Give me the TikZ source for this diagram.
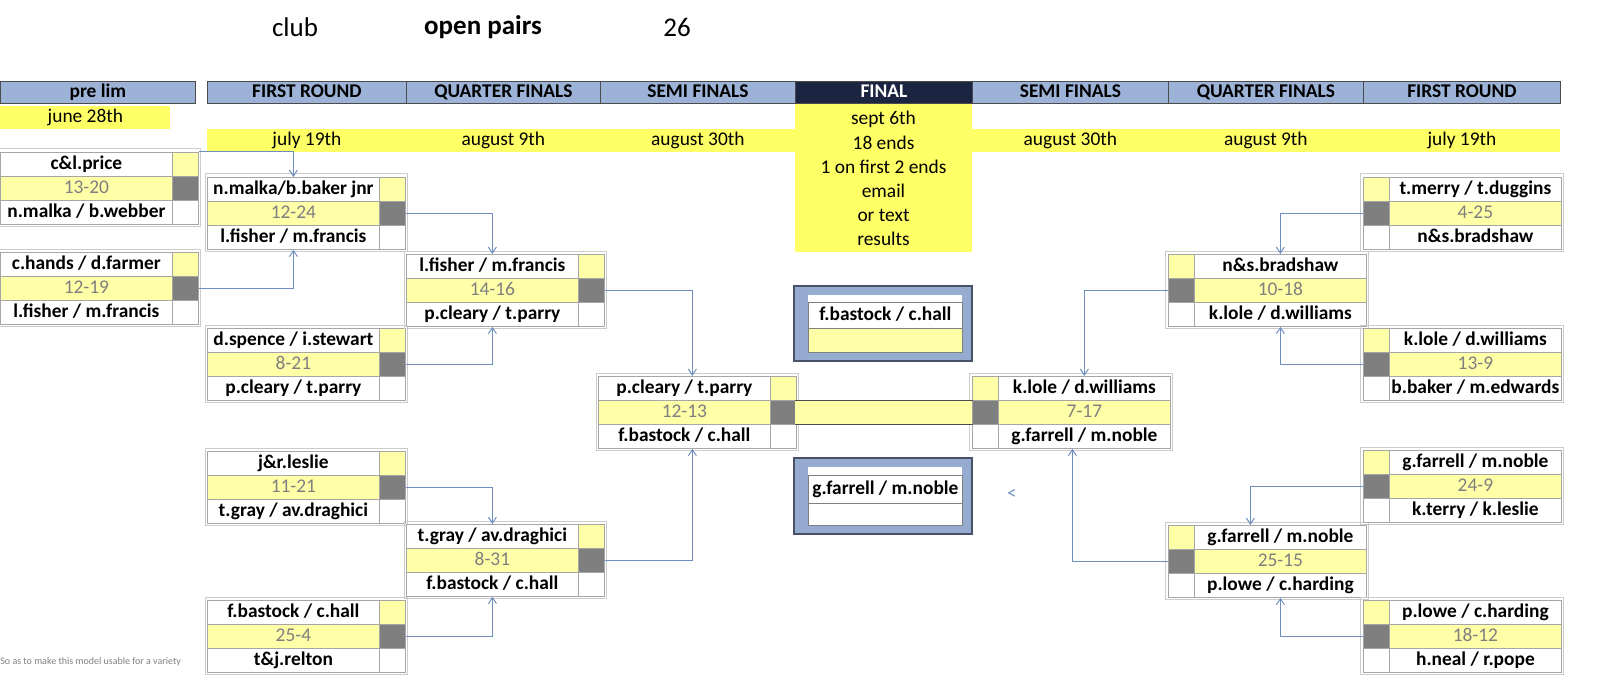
\documentclass[tikz,border=0pt]{standalone}
\usepackage{fontspec}
\setmainfont{Carlito}
\usetikzlibrary{arrows.meta}
\definecolor{hdrblue}{HTML}{9CB2D6}
\definecolor{navy}{HTML}{1B2541}
\definecolor{datey}{HTML}{FFFF66}
\definecolor{scorey}{HTML}{FFFFA8}
\definecolor{darkg}{HTML}{7F7F7F}
\definecolor{linkblue}{HTML}{6F8FC0}
\definecolor{frameblue}{HTML}{95ABD0}
\newcommand\mfont{\fontsize{9.7}{11}\selectfont\bfseries}
\newcommand\sfont{\fontsize{9.7}{11}\selectfont}
\tikzset{
  cellbox/.style={draw=gray!70, line width=0.4pt, minimum height=12pt, inner sep=0pt, text height=7pt, text depth=2pt, anchor=north west, font=\mfont},
  hdr/.style={draw=black!70, fill=hdrblue, minimum height=11pt, inner sep=0pt, text height=7pt, text depth=2pt, anchor=north west, font=\mfont},
  datecell/.style={fill=datey, minimum height=11.5pt, inner sep=0pt, text height=7pt, text depth=2pt, anchor=north west, font=\sfont},
  link/.style={linkblue, line width=0.5pt, -{Straight Barb[length=3pt,width=4pt]}},
  frame/.style={draw=gray!40, line width=0.5pt}
}
% left-hand match box: name, x, y, top pair, score, bottom pair
\newcommand\lmatch[6]{%
  \node[cellbox, fill=white, minimum width=86pt] (#1-t) at (#2,#3) {#4};
  \node[cellbox, fill=scorey, minimum width=86pt, text=darkg, font=\sfont] (#1-s) at (#2,#3+24) {#5};
  \node[cellbox, fill=white, minimum width=86pt] (#1-b) at (#2,#3+48) {#6};
  \node[cellbox, fill=scorey, minimum width=13pt] (#1-k1) at (#2+172,#3) {};
  \node[cellbox, fill=darkg, minimum width=13pt] (#1-k2) at (#2+172,#3+24) {};
  \node[cellbox, fill=white, minimum width=13pt] (#1-k3) at (#2+172,#3+48) {};
  \draw[frame] (#2-2,#3-3) rectangle (#2+200,#3+74);
}
% right-hand match box
\newcommand\rmatch[6]{%
  \node[cellbox, fill=scorey, minimum width=13pt] (#1-k1) at (#2,#3) {};
  \node[cellbox, fill=darkg, minimum width=13pt] (#1-k2) at (#2,#3+24) {};
  \node[cellbox, fill=white, minimum width=13pt] (#1-k3) at (#2,#3+48) {};
  \node[cellbox, fill=white, minimum width=86pt] (#1-t) at (#2+26,#3) {#4};
  \node[cellbox, fill=scorey, minimum width=86pt, text=darkg, font=\sfont] (#1-s) at (#2+26,#3+24) {#5};
  \node[cellbox, fill=white, minimum width=86pt] (#1-b) at (#2+26,#3+48) {#6};
  \draw[frame] (#2-3,#3-3) rectangle (#2+200,#3+74);
}
\begin{document}
\begin{tikzpicture}[x=0.5pt, y=-0.5pt]
\useasboundingbox (0,0) rectangle (1602,690);

% title
\node[font=\fontsize{13.5}{15}\selectfont] (ttl1) at (295,27) {club};
\node[font=\fontsize{13.5}{15}\selectfont\bfseries] (ttl2) at (483,27) {open pairs};
\node[font=\fontsize{13.5}{15}\selectfont] (ttl3) at (677,27) {26};

% headers
\node[hdr, minimum width=97.5pt] (h0) at (0,81) {pre lim};
\node[hdr, minimum width=99.5pt] (h1) at (207,81) {FIRST ROUND};
\node[hdr, minimum width=97pt] (h2) at (406,81) {QUARTER FINALS};
\node[hdr, minimum width=97.5pt] (h3) at (600,81) {SEMI FINALS};
\node[hdr, minimum width=88.5pt, fill=navy, text=white] (h4) at (795,81) {FINAL};
\node[hdr, minimum width=98pt] (h5) at (972,81) {SEMI FINALS};
\node[hdr, minimum width=97.5pt] (h6) at (1168,81) {QUARTER FINALS};
\node[hdr, minimum width=98.5pt] (h7) at (1363,81) {FIRST ROUND};

% dates
\node[datecell, minimum width=85pt] (d0) at (0,106) {june 28th};
\node[datecell, minimum width=99.5pt] (d1) at (207,129) {july 19th};
\node[datecell, minimum width=97pt] (d2) at (406,129) {august 9th};
\node[datecell, minimum width=97.5pt] (d3) at (600,129) {august 30th};
\node[datecell, minimum width=98pt] (d5) at (972,129) {august 30th};
\node[datecell, minimum width=97.5pt] (d6) at (1168,129) {august 9th};
\node[datecell, minimum width=98.5pt] (d7) at (1363,129) {july 19th};
\fill[datey] (795,104) rectangle (972,252);
\foreach \txt [count=\i] in {sept 6th, 18 ends, 1 on first 2 ends, email, or text, results}
  \node[font=\sfont] (fin\i) at (883.5,95+24*\i) {\txt};

% pre lim
\lmatch{P1}{0}{152}{c\&l.price}{13-20}{n.malka / b.webber}
\lmatch{P2}{0}{252}{c.hands / d.farmer}{12-19}{l.fisher / m.francis}

% first round, left
\lmatch{A}{207}{177}{n.malka/b.baker jnr}{12-24}{l.fisher / m.francis}
\lmatch{B}{207}{328}{d.spence / i.stewart}{8-21}{p.cleary / t.parry}
\lmatch{C}{207}{451}{j\&r.leslie}{11-21}{t.gray / av.draghici}
\lmatch{D}{207}{600}{f.bastock / c.hall}{25-4}{t\&j.relton}

% quarter finals, left
\lmatch{E}{406}{254}{l.fisher / m.francis}{14-16}{p.cleary / t.parry}
\lmatch{F}{406}{524}{t.gray / av.draghici}{8-31}{f.bastock / c.hall}

% semi final, left
\lmatch{S1}{598}{376}{p.cleary / t.parry}{12-13}{f.bastock / c.hall}

% semi final, right
\rmatch{S2}{972}{376}{k.lole / d.williams}{7-17}{g.farrell / m.noble}

% quarter finals, right
\rmatch{G}{1168}{254}{n\&s.bradshaw}{10-18}{k.lole / d.williams}
\rmatch{H}{1168}{525}{g.farrell / m.noble}{25-15}{p.lowe / c.harding}

% first round, right
\rmatch{I}{1363}{177}{t.merry / t.duggins}{4-25}{n\&s.bradshaw}
\rmatch{J}{1363}{328}{k.lole / d.williams}{13-9}{b.baker / m.edwards}
\rmatch{K}{1363}{450}{g.farrell / m.noble}{24-9}{k.terry / k.leslie}
\rmatch{L}{1363}{600}{p.lowe / c.harding}{18-12}{h.neal / r.pope}

% final bar
\node[cellbox, draw=none, fill=scorey, minimum width=88.5pt] (bar) at (795,400) {};
\draw[black!70] (bar.north west) -- (bar.north east);
\draw[black!70] (bar.south west) -- (bar.south east);

% winners
\node[draw=navy!80, line width=1pt, fill=frameblue, minimum width=89pt, minimum height=37.5pt, inner sep=0pt, anchor=north west] (W1) at (793,285) {};
\fill[white] (808,295) rectangle (962,302);
\node[cellbox, draw=gray, fill=white, minimum width=77pt, minimum height=13pt] (W1-t) at (808,302) {f.bastock / c.hall};
\node[cellbox, draw=gray, fill=scorey, minimum width=77pt] (W1-s) at (808,328) {};
\node[draw=navy!80, line width=1pt, fill=frameblue, minimum width=89pt, minimum height=38pt, inner sep=0pt, anchor=north west] (W2) at (793,457) {};
\fill[white] (808,467) rectangle (962,475);
\node[cellbox, draw=gray, fill=white, minimum width=77pt, minimum height=14pt] (W2-t) at (808,475) {g.farrell / m.noble};
\node[cellbox, draw=gray, fill=white, minimum width=77pt, minimum height=11pt] (W2-s) at (808,503) {};
\node[text=linkblue, font=\sfont] (stray) at (1012,494) {<};

% links, left
\draw[link] (P1-k1.north east) -| (A-t.north);
\draw[link] (P2-k2.east) -| (A-b.south);
\draw[link] (A-k2.east) -| (E-t.north);
\draw[link] (B-k2.east) -| (E-b.south);
\draw[link] (C-k2.east) -| (F-t.north);
\draw[link] (D-k2.east) -| (F-b.south);
\draw[link] (E-k2.east) -| ([xshift=4pt]S1-t.north);
\draw[link] (F-k2.east) -| ([xshift=4pt]S1-b.south);
% links, right
\draw[link] (I-k2.west) -| (G-t.north);
\draw[link] (J-k2.west) -| (G-b.south);
\draw[link] (G-k2.west) -| (S2-t.north);
\draw[link] (K-k2.west) -| ([xshift=-15pt]H-t.north);
\draw[link] (L-k2.west) -| (H-b.south);
\draw[link] (H-k2.west) -| ([xshift=-6pt]S2-b.south);

% cut-off note
\node[anchor=west, text=gray, font=\fontsize{5}{6}\selectfont, inner sep=0pt] (note) at (0,662) {So as to make this model usable for a variety};
\end{tikzpicture}
\end{document}
